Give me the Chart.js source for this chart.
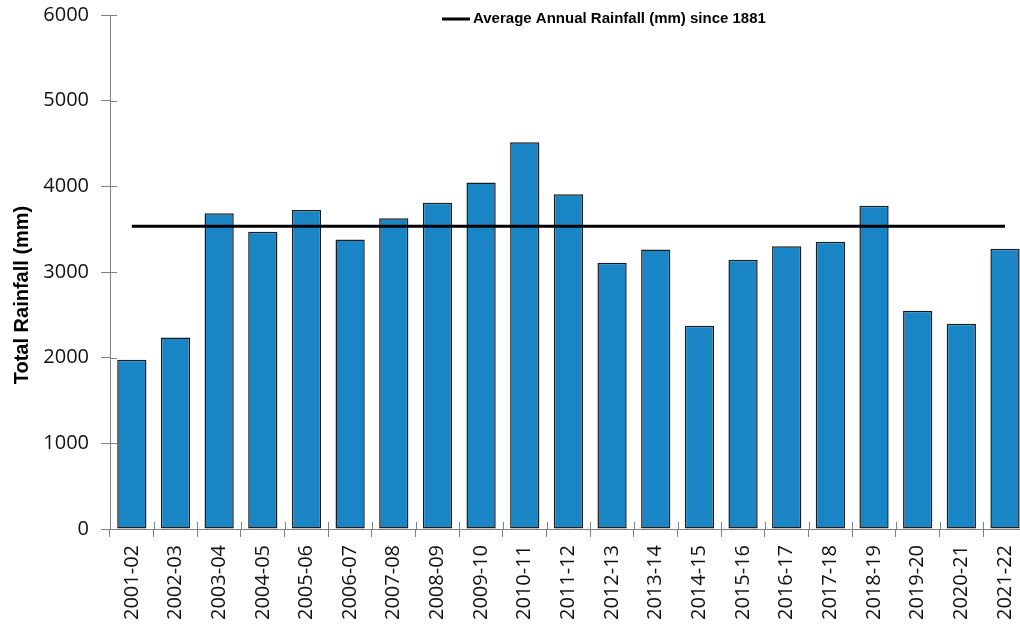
<!DOCTYPE html>
<html>
<head>
<meta charset="utf-8">
<script src="https://cdn.jsdelivr.net/npm/chart.js@4"></script>
<style>
  html, body { margin: 0; padding: 0; background: #fff; }
  #wrap { width: 1020px; height: 625px; overflow: hidden; }
</style>
</head>
<body>
<div id="wrap"><canvas id="c" width="1037" height="625"></canvas></div>
<script>
const seasons = ["2001-02", "2002-03", "2003-04", "2004-05", "2005-06", "2006-07", "2007-08",
  "2008-09", "2009-10", "2010-11", "2011-12", "2012-13", "2013-14", "2014-15", "2015-16",
  "2016-17", "2017-18", "2018-19", "2019-20", "2020-21", "2021-22"];
const rainfall = [1975, 2235, 3687, 3469, 3725, 3380, 3628, 3807, 4044, 4514, 3908,
  3107, 3263, 2373, 3142, 3302, 3352, 3772, 2548, 2396, 3271];
const averageSince1881 = 3535;
const yTicks = [0, 1000, 2000, 3000, 4000, 5000, 6000];

const axisGrey = '#7f7f7f';

// tick marks cross the axis line, so draw the inner half here
const crossTicks = {
  id: 'crossTicks',
  afterDraw: (chart) => {
    const {ctx, chartArea, scales} = chart;
    ctx.save();
    ctx.strokeStyle = axisGrey;
    ctx.lineWidth = 1;
    ctx.beginPath();
    scales.y.ticks.forEach((t, i) => {
      const py = Math.round(scales.y.getPixelForTick(i)) + 0.5;
      ctx.moveTo(chartArea.left, py);
      ctx.lineTo(chartArea.left + 7, py);
    });
    const step = scales.x.getPixelForValue(1) - scales.x.getPixelForValue(0);
    for (let i = 0; i <= seasons.length; i++) {
      const px = Math.round(scales.x.getPixelForValue(i) - step / 2) + 0.5;
      ctx.moveTo(px, chartArea.bottom);
      ctx.lineTo(px, chartArea.bottom - 7);
    }
    ctx.stroke();
    ctx.restore();
  }
};

const legendAndTitle = {
  id: 'legendAndTitle',
  afterDraw: (chart) => {
    const {ctx} = chart;
    ctx.save();
    // legend
    ctx.strokeStyle = '#000';
    ctx.lineWidth = 3;
    ctx.beginPath();
    ctx.moveTo(442, 19);
    ctx.lineTo(470, 19);
    ctx.stroke();
    ctx.fillStyle = '#000';
    ctx.font = 'bold 15px "Liberation Sans", Arial, sans-serif';
    ctx.textBaseline = 'middle';
    ctx.textAlign = 'left';
    ctx.fillText('Average Annual Rainfall (mm) since 1881', 473, 19);
    // y axis title
    ctx.translate(22, 295);
    ctx.rotate(-Math.PI / 2);
    ctx.font = 'bold 20px "Liberation Sans", Arial, sans-serif';
    ctx.textAlign = 'center';
    ctx.fillText('Total Rainfall (mm)', 0, 0);
    ctx.restore();
  }
};

new Chart(document.getElementById('c'), {
  type: 'bar',
  data: {
    labels: seasons,
    datasets: [
      {
        type: 'line',
        label: 'Average Annual Rainfall (mm) since 1881',
        data: seasons.map(() => averageSince1881),
        borderColor: '#000',
        borderWidth: 3,
        pointRadius: 0,
        fill: false,
        order: 0
      },
      {
        label: 'Total Rainfall',
        data: rainfall,
        backgroundColor: '#1a85c4',
        borderColor: '#1c1c1c',
        borderWidth: 1.5,
        borderSkipped: false,
        categoryPercentage: 1,
        barPercentage: 0.67,
        order: 1
      }
    ]
  },
  options: {
    responsive: false,
    animation: false,
    layout: { padding: { top: 15, right: 0, left: 0, bottom: 0 } },
    plugins: {
      legend: { display: false },
      tooltip: { enabled: false }
    },
    scales: {
      x: {
        grid: { drawOnChartArea: false, drawTicks: true, tickLength: 8, color: axisGrey, offset: true },
        border: { color: axisGrey, width: 1 },
        ticks: {
          color: '#111',
          font: { family: '"Open Sans", sans-serif', size: 20 },
          maxRotation: 90,
          minRotation: 90,
          padding: 8,
          autoSkip: false
        },
        afterFit: (scale) => { scale.height = 96; }
      },
      y: {
        min: 0,
        max: 6000,
        afterBuildTicks: (scale) => { scale.ticks = yTicks.map(v => ({ value: v })); },
        grid: { drawOnChartArea: false, drawTicks: true, tickLength: 9, color: axisGrey },
        border: { color: axisGrey, width: 1 },
        ticks: {
          color: '#111',
          font: { family: '"Open Sans", sans-serif', size: 20 },
          padding: 12,
          callback: (v) => String(v)
        },
        afterFit: (scale) => {
          scale.width = 110;
          scale.paddingTop = 0;
          scale.paddingBottom = 0;
        }
      }
    }
  },
  plugins: [crossTicks, legendAndTitle]
});
</script>
</body>
</html>
